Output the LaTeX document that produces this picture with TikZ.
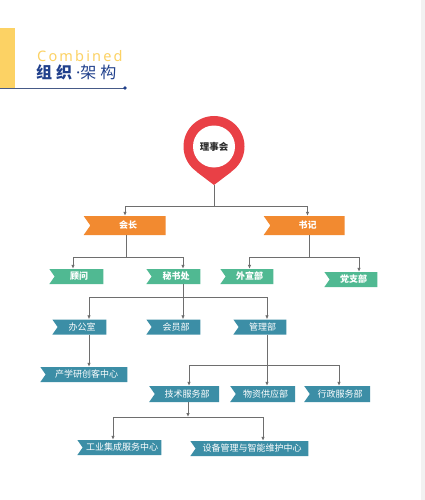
\documentclass[tikz,border=0pt]{standalone}
\usepackage{fontspec}
\usepackage{tikz}
\usetikzlibrary{arrows.meta,shapes.symbols}
\setmainfont{Noto Sans CJK SC}
\newfontfamily\latinfont[LetterSpace=15]{Noto Sans}
\newfontfamily\dotfont{Noto Sans}
\newfontfamily\headfont[LetterSpace=25]{Noto Sans CJK SC}
\definecolor{orgorange}{RGB}{242,138,48}
\definecolor{orggreen}{RGB}{80,185,146}
\definecolor{orgblue}{RGB}{60,142,166}
\definecolor{orgred}{RGB}{233,64,70}
\definecolor{orgyellow}{RGB}{252,210,100}
\definecolor{orgnavy}{RGB}{32,64,140}
\definecolor{orgline}{RGB}{110,110,110}
\definecolor{orgtext}{RGB}{45,45,45}
\definecolor{orgstrip}{RGB}{242,242,242}

\begin{document}
\begin{tikzpicture}[x=1pt,y=-1pt,>={Latex[length=4pt,width=3.5pt]},
  every node/.style={font=\fontsize{9}{10}\selectfont},
  tag/.style={signal,signal to=nowhere,signal from=west,signal pointer angle=110,inner sep=0pt,text=white},
  lead/.style={tag,fill=orgorange,minimum height=19pt,font=\fontsize{9}{10}\selectfont\bfseries},
  office/.style={tag,fill=orggreen,minimum height=15pt,font=\fontsize{9}{10}\selectfont\bfseries},
  dept/.style={tag,fill=orgblue,minimum height=15pt},
  link/.style={draw=orgline,line width=0.8pt}]
\useasboundingbox (0,0) rectangle (425,500);
\fill[white] (0,0) rectangle (425,500);
\fill[orgstrip] (421,0) rectangle (425,500);

% header
\fill[orgyellow] (0,28) rectangle (15,88);
\node[anchor=base west,inner sep=0pt,font=\latinfont\fontsize{14.5}{14.5}\selectfont,text=orgyellow] (comb) at (37,61.5) {Combined};
\node[anchor=base west,inner sep=0pt,font=\headfont\fontsize{16}{16}\selectfont,text=orgnavy] (title) at (36,78.5) {\textbf{组织}{\dotfont·}架构};
\coordinate (dot) at (125,88);
\draw[orgnavy!60!gray,line width=0.8pt] (0,88) -- (dot);
\fill[orgnavy] (dot) circle (1.8pt);

% pin
\node[circle,fill=orgred,minimum size=61pt,inner sep=0pt] (pin) at (214,146.5) {};
\coordinate (tip) at (214,185);
\fill[orgred] (tip) -- (pin.-55) -- (pin.-125) -- cycle;
\node[circle,fill=white,minimum size=42pt,inner sep=0pt,text=orgtext,font=\fontsize{9.5}{10}\selectfont\bfseries] (lsh) at (pin) {理事会};

% leaders
\node[lead,minimum width=82pt] (hz) at (128,225.5) {会长};
\node[lead,minimum width=81pt] (sj) at (307.5,225.5) {书记};

% offices
\node[office,minimum width=54pt] (gw) at (79,276.5) {顾问};
\node[office,minimum width=54pt] (msc) at (176,276.5) {秘书处};
\node[office,minimum width=53pt] (wxb) at (249.5,276.5) {外宣部};
\node[office,minimum width=53pt] (dzb) at (353.5,279.5) {党支部};

% departments
\node[dept,minimum width=54pt] (bgs) at (82,327) {办公室};
\node[dept,minimum width=54pt] (hyb) at (176,327) {会员部};
\node[dept,minimum width=53pt] (glb) at (262.5,327) {管理部};
\node[dept,minimum width=87pt] (cxy) at (86.5,374.5) {产学研创客中心};
\node[dept,minimum width=70pt,minimum height=16pt] (jsf) at (187,394) {技术服务部};
\node[dept,minimum width=65pt,minimum height=16pt] (wzg) at (265.5,394) {物资供应部};
\node[dept,minimum width=66pt,minimum height=16pt] (xzf) at (340,394) {行政服务部};
\node[dept,minimum width=84pt] (gyjc) at (122,447.5) {工业集成服务中心};
\node[dept,minimum width=118pt] (sbgl) at (252,448.5) {设备管理与智能维护中心};

% connectors
\coordinate (j1) at (214,206);
\draw[link] (tip) -- (j1);
\draw[link,->] (j1) -| ([xshift=-3pt]hz.north);
\draw[link,->] (j1) -| (sj.north);

\coordinate (j2) at (126,257);
\draw[link] ([xshift=-2pt]hz.south) -- (j2);
\draw[link,->] (j2) -| ([xshift=-6pt]gw.north);
\draw[link,->] (j2) -| ([xshift=7pt]msc.north);
\coordinate (j3) at (309,257);
\draw[link] ([xshift=1.5pt]sj.south) -- (j3);
\draw[link,->] (j3) -| (wxb.north);
\draw[link,->] (j3) -| ([xshift=5.5pt]dzb.north);

\coordinate (j4) at (183,297);
\draw[link] ([xshift=7pt]msc.south) -- (j4);
\draw[link,->] (j4) -| ([xshift=7pt]bgs.north);
\draw[link,->] (j4) -- ([xshift=7pt]hyb.north);
\draw[link,->] (j4) -| ([xshift=4.5pt]glb.north);
\draw[link,->] ([xshift=7pt]bgs.south) -- ([xshift=7pt]bgs.south |- cxy.north);

\coordinate (j5) at (267,365);
\draw[link] ([xshift=4.5pt]glb.south) -- (j5);
\draw[link,->] (j5) -| ([xshift=2pt]jsf.north);
\draw[link,->] (j5) -- ([xshift=1.5pt]wzg.north);
\draw[link,->] (j5) -| ([xshift=-1pt]xzf.north);

\coordinate (j6) at (188,417);
\draw[link,->] ([xshift=1pt]jsf.south) -- (j6);
\draw[link,->] (j6) -| ([xshift=-9pt]gyjc.north);
\draw[link,->] (j6) -| ([xshift=11pt]sbgl.north);
\end{tikzpicture}
\end{document}
